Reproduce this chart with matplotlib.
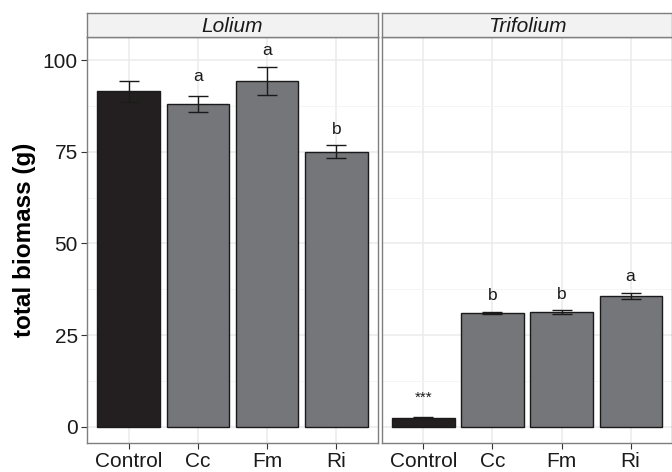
import matplotlib
matplotlib.use("Agg")
import matplotlib.pyplot as plt

plt.rcParams["font.family"] = ["Liberation Sans", "DejaVu Sans"]

treatments = ["Control", "Cc", "Fm", "Ri"]
panels = ["Lolium", "Trifolium"]
biomass = {
    "Lolium": [91.5, 88.0, 94.3, 75.0],
    "Trifolium": [2.5, 31.0, 31.3, 35.6],
}
errors = {
    "Lolium": [2.9, 2.1, 3.8, 1.8],
    "Trifolium": [0.2, 0.3, 0.6, 0.8],
}
letters = {
    "Lolium": ["", "a", "a", "b"],
    "Trifolium": ["***", "b", "b", "a"],
}
letter_y = {
    "Lolium": [0, 95.6, 102.7, 81.0],
    "Trifolium": [8.0, 35.8, 36.0, 40.9],
}

ctrl_col = "#231f20"
trt_col = "#75767a"
grid_col = "#ebebeb"
border_col = "#7f7f7f"

fig = plt.figure(figsize=(6.72, 4.72), dpi=100)
W, H = 672, 472
y0, y1 = 443, 37
boxes = [(87, 378), (382, 672)]

for i, (name, (xa, xb)) in enumerate(zip(panels, boxes)):
    ax = fig.add_axes([xa / W, 1 - y0 / H, (xb - xa) / W, (y0 - y1) / H])
    xs = list(range(len(treatments)))
    cols = [ctrl_col] + [trt_col] * (len(treatments) - 1)
    ax.bar(xs, biomass[name], width=0.9, color=cols, edgecolor="#1a1a1a",
           linewidth=1.0, zorder=2)
    ax.errorbar(xs, biomass[name], yerr=errors[name], fmt="none",
                ecolor="#1a1a1a", elinewidth=1.0, capsize=7, capthick=1.0,
                zorder=3)
    for x, t, ty in zip(xs, letters[name], letter_y[name]):
        if t:
            ax.text(x, ty, t, ha="center", va="center",
                    fontsize=11 if t == "***" else 12.5, color="#1a1a1a")
    ax.set_xlim(-0.6, 3.6)
    ax.set_ylim(-4.4, 106.3)
    ax.set_yticks([0, 25, 50, 75, 100])
    ax.set_yticks([12.5, 37.5, 62.5, 87.5], minor=True)
    ax.set_xticks(xs)
    ax.set_xticklabels(treatments, fontsize=15, color="#1a1a1a")
    ax.grid(True, which="major", color=grid_col, linewidth=1.1, zorder=0)
    ax.grid(True, which="minor", axis="y", color="#f4f4f4", linewidth=0.6,
            zorder=0)
    ax.set_axisbelow(True)
    ax.tick_params(axis="both", which="major", length=4, color="#333333",
                   pad=2.5)
    ax.tick_params(axis="y", which="minor", length=0)
    for s in ax.spines.values():
        s.set_color(border_col)
        s.set_linewidth(1.0)
    if i == 0:
        ax.set_yticklabels(["0", "25", "50", "75", "100"], fontsize=15,
                           color="#1a1a1a")
        ax.set_ylabel("total biomass (g)", fontsize=17.5, fontweight="bold",
                      labelpad=5)
    else:
        ax.tick_params(axis="y", which="both", left=False, labelleft=False)

    strip = fig.add_axes([xa / W, 1 - y1 / H, (xb - xa) / W, 24 / H])
    strip.set_xticks([])
    strip.set_yticks([])
    strip.set_facecolor("#f2f2f2")
    for s in strip.spines.values():
        s.set_color(border_col)
        s.set_linewidth(1.0)
    strip.text(0.5, 0.45, name, ha="center", va="center", fontsize=15,
               style="italic", color="#1a1a1a", transform=strip.transAxes)

fig.savefig("out.png", dpi=100)
